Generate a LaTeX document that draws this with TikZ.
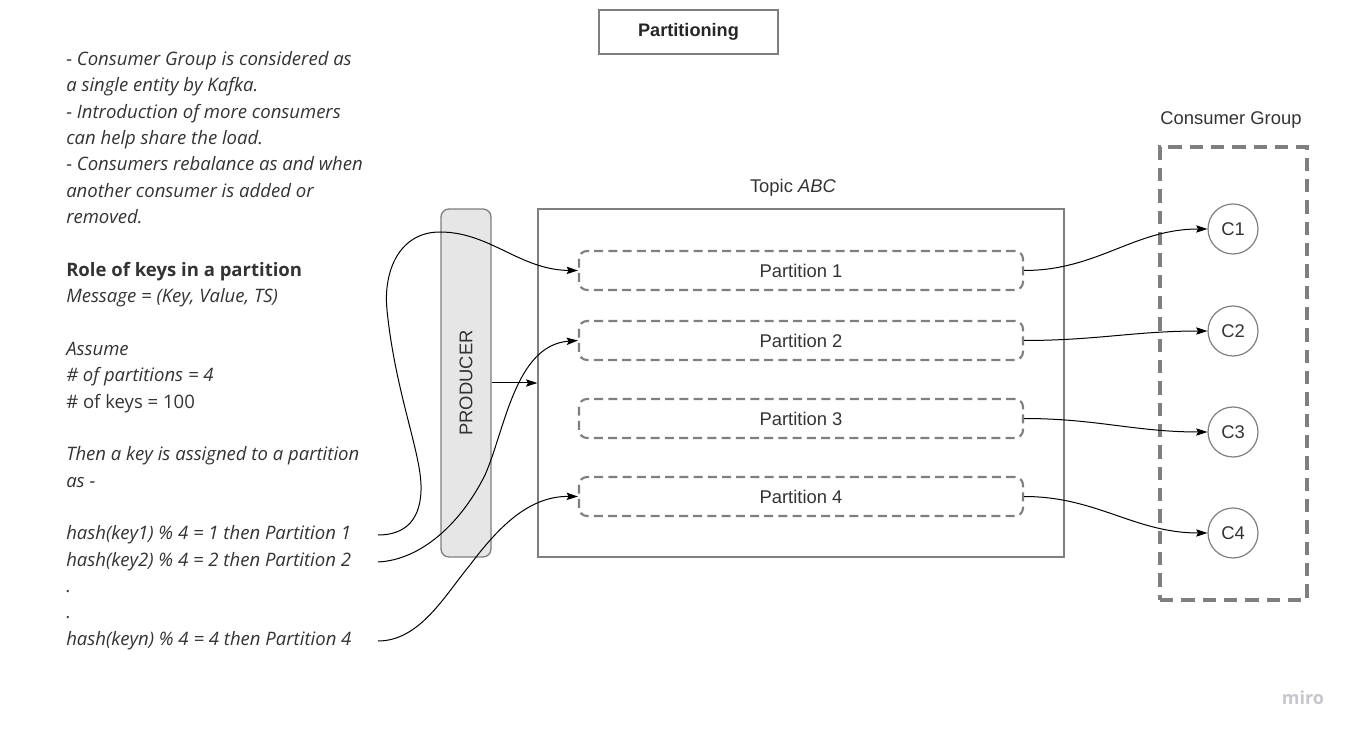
\documentclass[tikz,border=0pt]{standalone}
\usepackage{fontspec}
\setmainfont{Liberation Sans}
\newfontfamily\osans{Open Sans}
\usetikzlibrary{arrows.meta}
\definecolor{bgray}{HTML}{7F7F7F}
\definecolor{tgray}{HTML}{333333}
\definecolor{pfill}{HTML}{E6E6E6}
\definecolor{mirogray}{HTML}{C6C6CC}
\begin{document}
\begin{tikzpicture}[x=0.75pt,y=-0.75pt,
  lbl/.style={font=\fontsize{13.8}{16}\selectfont, text=tgray},
  lt/.style={font=\osans\itshape\fontsize{13.9}{16}\selectfont, text=tgray, inner sep=0pt, anchor=base west},
  ltup/.style={lt, font=\osans\fontsize{13.9}{16}\selectfont},
  ltbold/.style={lt, font=\osans\bfseries\fontsize{13.9}{16}\selectfont},
  partbox/.style={draw=bgray, line width=1.6pt, dash pattern=on 6.75pt off 3.9pt, rounded corners=6pt,
    minimum width=333pt, minimum height=29.25pt, inner sep=0pt, lbl},
  consumer/.style={circle, draw=bgray, line width=0.9pt, minimum size=37.5pt, inner sep=0pt, lbl},
  conn/.style={draw=black, line width=0.75pt, -{Stealth[length=8.5pt,width=5.5pt,inset=1.5pt]}}
]
\useasboundingbox (0,0) rectangle (1356,737);

% title
\node[draw=bgray, line width=1.1pt, minimum width=134.25pt, minimum height=33pt, inner sep=0pt,
  font=\bfseries\fontsize{13.6}{16}\selectfont, text=black!85] (title) at (688.5,32) {Partitioning};

% topic box
\node[draw=bgray, line width=1pt, minimum width=394.5pt, minimum height=261pt, inner sep=0pt] (topic) at (801,383) {};
\node[lbl] (topiclbl) at (793,188) {Topic \textit{ABC}};

% partitions
\node[partbox] (p1) at (801,270.5) {Partition 1};
\node[partbox] (p2) at (801,340.5) {Partition 2};
\node[partbox] (p3) at (801,418.5) {Partition 3};
\node[partbox] (p4) at (801,496.5) {Partition 4};

% producer
\node[draw=bgray, fill=pfill, line width=1pt, rounded corners=6pt, minimum width=37.5pt, minimum height=261pt,
  inner sep=0pt] (prod) at (466,383) {};
\node[lbl, rotate=90] (prodlbl) at (466,383) {PRODUCER};
\draw[conn] (prod.east) -- (topic.west);

% consumer group
\node[draw=bgray, line width=2.4pt, dash pattern=on 10pt off 6pt, minimum width=110.25pt, minimum height=339.75pt,
  inner sep=0pt] (cg) at (1233.5,373.5) {};
\node[lbl] (cglbl) at (1231,120) {Consumer Group};
\node[consumer] (c1) at (1233,229) {C1};
\node[consumer] (c2) at (1233,331) {C2};
\node[consumer] (c3) at (1233,432) {C3};
\node[consumer] (c4) at (1233,533) {C4};

\draw[conn] (p1.east) to[out=0,in=180] (c1.west);
\draw[conn] (p2.east) to[out=0,in=180] (c2.west);
\draw[conn] (p3.east) to[out=0,in=180] (c3.west);
\draw[conn] (p4.east) to[out=0,in=180] (c4.west);

% left text
\node[lt] (t1) at (66,65.5) {- Consumer Group is considered as};
\node[lt] (t2) at (66,91.85) {a single entity by Kafka.};
\node[lt] (t3) at (66,118.2) {- Introduction of more consumers};
\node[lt] (t4) at (66,144.55) {can help share the load.};
\node[lt] (t5) at (66,170.9) {- Consumers rebalance as and when};
\node[lt] (t6) at (66,197.25) {another consumer is added or};
\node[lt] (t7) at (66,223.6) {removed.};
\node[ltbold] (t9) at (66,276.3) {Role of keys in a partition};
\node[lt] (t10) at (66,302.65) {Message = (Key, Value, TS)};
\node[lt] (t12) at (66,355.35) {Assume};
\node[lt] (t13) at (66,381.7) {\# of partitions = 4};
\node[ltup] (t14) at (66,408.05) {\# of keys = 100};
\node[lt] (t16) at (66,460.75) {Then a key is assigned to a partition};
\node[lt] (t17) at (66,487.1) {as -};
\node[lt] (h1) at (66,539.8) {hash(key1) \% 4 = 1 then Partition 1};
\node[lt] (h2) at (66,566.15) {hash(key2) \% 4 = 2 then Partition 2};
\node[lt] (d1) at (66,592.5) {.};
\node[lt] (d2) at (66,618.85) {.};
\node[lt] (hn) at (66,645.2) {hash(keyn) \% 4 = 4 then Partition 4};

% key curves
\coordinate (s1) at (378,535);
\coordinate (s2) at (378,562);
\coordinate (s3) at (378,641);
\draw[conn] (s1) .. controls (405,535) and (422,520) .. (421,485)
  .. controls (420,450) and (395,390) .. (387,310)
  .. controls (383,270) and (400,232) .. (440,232)
  .. controls (490,232) and (520,270) .. (p1.west);
\draw[conn] (s2) .. controls (420,560) and (460,525) .. (485,475)
  .. controls (505,430) and (515,345) .. (p2.west);
\draw[conn] (s3) .. controls (420,641) and (445,595) .. (470,565)
  .. controls (500,525) and (530,496) .. (p4.west);

% logo
\node[font=\osans\bfseries\fontsize{13.5}{14}\selectfont, text=mirogray] (miro) at (1303,698) {miro};
\end{tikzpicture}
\end{document}
